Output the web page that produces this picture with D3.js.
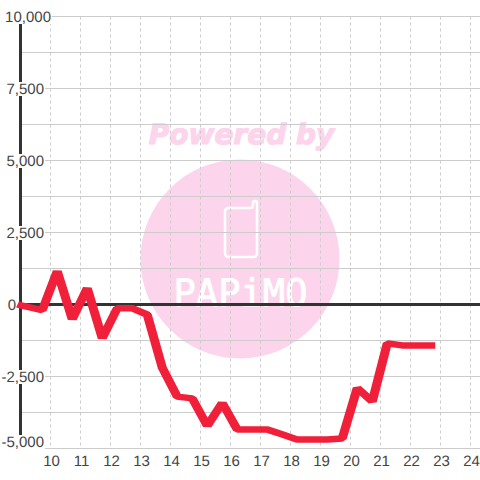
<!DOCTYPE html>
<html><head><meta charset="utf-8">
<style>html,body{margin:0;padding:0;background:#fff}svg{display:block}text{text-rendering:geometricPrecision}</style>
<script src="https://cdn.jsdelivr.net/npm/d3@7"></script></head>
<body><svg id="c" width="480" height="480"></svg>
<script>
const yMajor = [10000, 7500, 5000, 2500, 0, -2500, -5000];
const yMinor = [8750, 6250, 3750, 1250, -1250, -3750];
const xTicks = [10,11,12,13,14,15,16,17,18,19,20,21,22,23,24];
const hours = [8.925,9.75,10.25,10.75,11.25,11.75,12.25,12.75,13.25,13.75,14.25,14.75,15.25,15.75,16.25,16.75,17.25,17.75,18.25,18.75,19.25,19.75,20.25,20.75,21.25,21.75,22.25,22.85];
const values = [0,-200,1160,-510,570,-1170,-130,-130,-350,-2190,-3200,-3260,-4215,-3415,-4340,-4340,-4340,-4510,-4690,-4690,-4690,-4650,-2900,-3370,-1350,-1420,-1420,-1420];

const svg = d3.select('#c');
const x = d3.scaleLinear().domain([10,24]).range([50.5,470.5]);
const y = d3.scaleLinear().domain([-5000,10000]).range([448.5,16.5]);
const font = '"Liberation Sans", Arial, sans-serif';
const ink = '#444', gridC = '#cccccc', pink = '#fcd5ec';

// watermark
const wm = svg.append('g');
wm.append('circle').attr('cx',240).attr('cy',259).attr('r',99.5).attr('fill',pink);
wm.append('text').attr('x',241.5).attr('y',144).attr('text-anchor','middle')
  .attr('font-family','"DejaVu Sans", sans-serif').attr('font-weight','bold').attr('font-style','italic')
  .attr('font-size',28).attr('fill',pink).attr('stroke',pink).attr('stroke-width',1.2).text('Powered by');
wm.append('path').attr('d','M229 208H250Q253 208 253 205V203Q253 201 255 201Q257 201 257 203V253Q257 257 253 257H229Q225 257 225 253V212Q225 208 229 208Z')
  .attr('fill','none').attr('stroke','#fff').attr('stroke-width',2.5);
wm.append('text').attr('x',240.5).attr('y',306).attr('text-anchor','middle')
  .attr('font-family','"DejaVu Sans Mono", monospace').attr('font-size',38).attr('fill','#fff')
  .attr('stroke','#fff').attr('stroke-width',0.8)
  .attr('textLength',134).attr('lengthAdjust','spacingAndGlyphs').text('PAPiMO');

// grid
const grid = svg.append('g');
grid.selectAll('line.h').data(yMajor.concat(yMinor)).join('line').attr('class','h')
  .attr('x1',22).attr('x2',480).attr('y1',d=>y(d)).attr('y2',d=>y(d))
  .attr('stroke',gridC).attr('stroke-width',1);
grid.selectAll('line.v').data(xTicks).join('line').attr('class','v')
  .attr('x1',d=>x(d)).attr('x2',d=>x(d)).attr('y1',y(10000)).attr('y2',y(-5000))
  .attr('stroke',gridC).attr('stroke-width',1).attr('stroke-dasharray','3,3');

// axes
svg.append('line').attr('x1',20.5).attr('x2',20.5).attr('y1',16).attr('y2',449)
  .attr('stroke','#333').attr('stroke-width',3);
svg.append('line').attr('x1',19).attr('x2',480).attr('y1',y(0)).attr('y2',y(0))
  .attr('stroke','#333').attr('stroke-width',3);

// series: stroke stretched horizontally, as in the reference
const k = 1.4;
const line = d3.line().x((d,i)=>(x(hours[i])-0.75)/k).y(d=>y(d));
svg.append('path').attr('d',line(values)).attr('transform',`scale(${k},1)`)
  .attr('fill','none').attr('stroke','#f0203a').attr('stroke-width',6.5).attr('stroke-linejoin','bevel');

// y labels on white plates
const fmt = d3.format(',');
const labelRight = d => d===10000?51:(d===0?16:44);
const labelBase = d => y(d)+(d===-5000?-1.5:5.5);
svg.selectAll('rect.y').data(yMajor.filter(d=>d!==0)).join('rect').attr('class','y')
  .attr('x',0).attr('width',d=>labelRight(d)+1)
  .attr('y',d=>labelBase(d)-12).attr('height',14).attr('fill','#fff');
svg.selectAll('text.y').data(yMajor).join('text').attr('class','y')
  .attr('x',labelRight).attr('y',labelBase).attr('text-anchor','end')
  .attr('font-family',font).attr('font-size',15).attr('fill',ink).text(d=>fmt(d).replace('−','-'));
svg.selectAll('text.x').data(xTicks).join('text').attr('class','x')
  .attr('x',d=>x(d)+1).attr('y',466).attr('text-anchor','middle')
  .attr('font-family',font).attr('font-size',15).attr('fill',ink).text(d=>d);
</script></body></html>
